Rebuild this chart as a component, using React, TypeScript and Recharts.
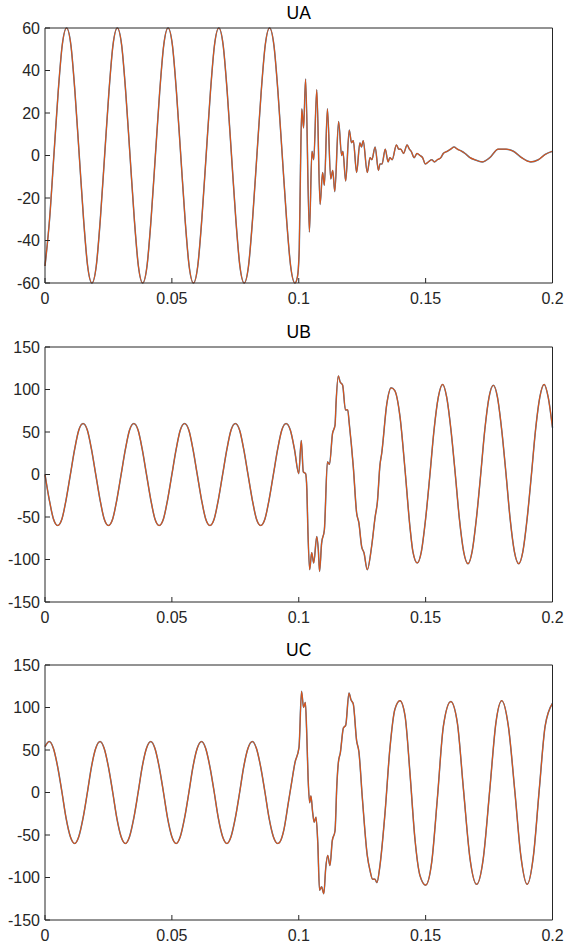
import React from 'react';
import { LineChart, Line, XAxis, YAxis } from 'recharts';

// shared tick labels
const xTicks = [0, 0.05, 0.1, 0.15, 0.2];
const uaTicks = [-60, -40, -20, 0, 20, 40, 60];
const ubcTicks = [-150, -100, -50, 0, 50, 100, 150];

// UA: steady state up to the trough before 0.1 s, then the fault transient
const uaSteadyTime = [
  0, 0.0018, 0.0035, 0.0052, 0.0068, 0.0085, 0.0102, 0.0118, 0.0135, 0.0152, 0.0168, 0.0185,
  0.0202, 0.0218, 0.0235, 0.0252, 0.0268, 0.0285, 0.0302, 0.0318, 0.0335, 0.0352, 0.0368, 0.0385,
  0.0402, 0.0418, 0.0435, 0.0452, 0.0468, 0.0485, 0.0502, 0.0518, 0.0535, 0.0552, 0.0568, 0.0585,
  0.0602, 0.0618, 0.0635, 0.0652, 0.0668, 0.0685, 0.0702, 0.0718, 0.0735, 0.0752, 0.0768, 0.0785,
  0.0802, 0.0818, 0.0835, 0.0852, 0.0868, 0.0885, 0.0902, 0.0918, 0.0935, 0.0952, 0.0968, 0.0985,
];
const uaSteadyValue = [
  -52, -30, 0, 30, 52, 60, 52, 30, 0, -30, -52, -60,
  -52, -30, 0, 30, 52, 60, 52, 30, 0, -30, -52, -60,
  -52, -30, 0, 30, 52, 60, 52, 30, 0, -30, -52, -60,
  -52, -30, 0, 30, 52, 60, 52, 30, 0, -30, -52, -60,
  -52, -30, 0, 30, 52, 60, 52, 30, 0, -30, -52, -60,
];
const uaFaultTime = [
  0.0995, 0.1002, 0.1007, 0.1012, 0.1019, 0.1027, 0.1042, 0.1052, 0.1059, 0.1071,
  0.1084, 0.1094, 0.1101, 0.1113, 0.1126, 0.1134, 0.1142, 0.1157, 0.1169, 0.1174,
  0.1185, 0.1199, 0.1208, 0.1215, 0.1228, 0.1241, 0.1247, 0.1254, 0.127, 0.1281,
  0.1288, 0.1301, 0.1314, 0.132, 0.1328, 0.1341, 0.1352, 0.1359, 0.1368, 0.1385,
  0.1394, 0.1402, 0.1413, 0.1427, 0.1436, 0.1443, 0.1455, 0.1466, 0.1478, 0.1488,
  0.1499, 0.1511, 0.1524, 0.1535, 0.1546, 0.156, 0.157, 0.1586, 0.1599, 0.1612,
  0.1625, 0.1642, 0.1655, 0.1675, 0.1694, 0.1723, 0.1753, 0.1786, 0.1817, 0.1846,
  0.1878, 0.1914, 0.1944, 0.1971, 0.2,
];
const uaFaultValue = [
  -57, -44, -5, 22, 13, 36, -36, 2, -2, 31,
  -23, -8, -14, 22, -11, -7, -17, 16, 0, 2,
  -12, 12, 6, 7, -8, 6, 4, 7, -8, -1,
  -2, 4, -7, -4, -4, 3, -3, -1, -2, 5,
  3, 3, 1, 5, 3, 2, -1, 1, 0, -1,
  -4, -3, -2, -3, -2, -1, 1, 2, 3, 4,
  3, 2, 1, -1, -2, -3, -1, 3, 3, 2,
  -1, -3, -2, 0.5, 2,
];

// UB
const ubSteadyTime = [
  0, 0.0017, 0.0033, 0.005, 0.0067, 0.0083, 0.01, 0.0117, 0.0133, 0.015, 0.0167, 0.0183,
  0.02, 0.0217, 0.0233, 0.025, 0.0267, 0.0283, 0.03, 0.0317, 0.0333, 0.035, 0.0367, 0.0383,
  0.04, 0.0417, 0.0433, 0.045, 0.0467, 0.0483, 0.05, 0.0517, 0.0533, 0.055, 0.0567, 0.0583,
  0.06, 0.0617, 0.0633, 0.065, 0.0667, 0.0683, 0.07, 0.0717, 0.0733, 0.075, 0.0767, 0.0783,
  0.08, 0.0817, 0.0833, 0.085, 0.0867, 0.0883, 0.09, 0.0917, 0.0933, 0.095, 0.0967, 0.0983,
];
const ubSteadyValue = [
  0, -30, -52, -60, -52, -30, 0, 30, 52, 60, 52, 30,
  0, -30, -52, -60, -52, -30, 0, 30, 52, 60, 52, 30,
  0, -30, -52, -60, -52, -30, 0, 30, 52, 60, 52, 30,
  0, -30, -52, -60, -52, -30, 0, 30, 52, 60, 52, 30,
  0, -30, -52, -60, -52, -30, 0, 30, 52, 60, 52, 30,
];
const ubFaultTime = [
  0.1, 0.101, 0.1018, 0.1027, 0.1032, 0.1036, 0.1043, 0.1051, 0.1059, 0.1071,
  0.1077, 0.1082, 0.109, 0.1101, 0.1113, 0.1121, 0.1133, 0.1143, 0.1147, 0.1156,
  0.1163, 0.1173, 0.1184, 0.1193, 0.1199, 0.1215, 0.1228, 0.1237, 0.1248, 0.1257,
  0.127, 0.1287, 0.1301, 0.131, 0.132, 0.1327, 0.1347, 0.1364, 0.1378, 0.1399,
  0.1419, 0.1438, 0.145, 0.1467, 0.1483, 0.15, 0.1517, 0.1533, 0.155, 0.1567,
  0.1583, 0.16, 0.1617, 0.1633, 0.165, 0.1667, 0.1683, 0.17, 0.1717, 0.1733,
  0.175, 0.1767, 0.1783, 0.18, 0.1817, 0.1833, 0.185, 0.1867, 0.1883, 0.19,
  0.1917, 0.1933, 0.195, 0.1967, 0.1983, 0.2,
];
const ubFaultValue = [
  1, 40, 3, 1, -18, -65, -112, -92, -104, -73,
  -88, -114, -81, -65, 15, 12, 48, 58, 84, 116,
  109, 105, 76, 76, 60, 9, -45, -57, -85, -92,
  -112, -85, -50, -32, 11, 25, 83, 102, 99, 68,
  5, -61, -91, -104, -91, -52, 0, 52, 91, 106,
  91, 52, 0, -52, -91, -105, -91, -52, 0, 52,
  91, 105, 91, 52, 0, -52, -91, -105, -91, -52,
  0, 52, 91, 106, 91, 55,
];

// UC
const ucSteadyTime = [
  0, 0.0017, 0.0033, 0.005, 0.0067, 0.0083, 0.01, 0.0117, 0.0133, 0.015, 0.0167, 0.0183,
  0.02, 0.0217, 0.0233, 0.025, 0.0267, 0.0283, 0.03, 0.0317, 0.0333, 0.035, 0.0367, 0.0383,
  0.04, 0.0417, 0.0433, 0.045, 0.0467, 0.0483, 0.05, 0.0517, 0.0533, 0.055, 0.0567, 0.0583,
  0.06, 0.0617, 0.0633, 0.065, 0.0667, 0.0683, 0.07, 0.0717, 0.0733, 0.075, 0.0767, 0.0783,
  0.08, 0.0817, 0.0833, 0.085, 0.0867, 0.0883, 0.09, 0.0917,
];
const ucSteadyValue = [
  54, 60, 52, 30, 0, -30, -52, -60, -52, -30, 0, 30,
  52, 60, 52, 30, 0, -30, -52, -60, -52, -30, 0, 30,
  52, 60, 52, 30, 0, -30, -52, -60, -52, -30, 0, 30,
  52, 60, 52, 30, 0, -30, -52, -60, -52, -30, 0, 30,
  52, 60, 52, 30, 0, -30, -52, -60,
];
const ucFaultTime = [
  0.0926, 0.0942, 0.0959, 0.0972, 0.0985, 0.1001, 0.1011, 0.1019, 0.1026, 0.1031,
  0.1037, 0.1043, 0.1048, 0.1055, 0.1061, 0.1068, 0.1075, 0.1082, 0.109, 0.1099,
  0.1106, 0.1114, 0.1123, 0.1132, 0.1143, 0.115, 0.1156, 0.1164, 0.1176, 0.1185,
  0.1198, 0.1206, 0.1215, 0.1228, 0.1237, 0.1251, 0.127, 0.1281, 0.1291, 0.13,
  0.1308, 0.132, 0.134, 0.1359, 0.1379, 0.1399, 0.1419, 0.1438, 0.1458, 0.1478,
  0.15, 0.1524, 0.1546, 0.157, 0.1599, 0.1625, 0.1649, 0.1675, 0.1701, 0.1727,
  0.1753, 0.1777, 0.18, 0.1826, 0.1852, 0.1875, 0.19, 0.1925, 0.1948, 0.1971,
  0.2,
];
const ucFaultValue = [
  -58, -43, -12, 12, 35, 53, 119, 100, 106, 74,
  16, -12, -4, -24, -35, -29, -59, -115, -111, -119,
  -90, -74, -86, -57, -45, 8, 35, 47, 76, 79,
  117, 109, 104, 61, 48, -8, -74, -92, -102, -102,
  -106, -86, -24, 51, 98, 108, 90, 24, -55, -98,
  -109, -82, -8, 78, 107, 82, 4, -78, -108, -78,
  4, 82, 108, 78, 0, -74, -108, -74, 4, 78,
  105,
];

const AXIS_COLOR = '#262626';
const FONT = '"Liberation Sans", Arial, Helvetica, sans-serif';
const tickStyle = { fontSize: 16, fill: AXIS_COLOR, fontFamily: FONT };

function Panel({ title, time, values, yTicks, top }) {
  const data = time.map((t, i) => ({ t, v: values[i] }));
  const yDomain = [yTicks[0], yTicks[yTicks.length - 1]];
  return (
    <div style={{ position: 'absolute', left: 0, top, width: 564, height: 318 }}>
      <div
        style={{
          position: 'absolute',
          left: 45,
          width: 507.5,
          top: 3,
          textAlign: 'center',
          fontFamily: FONT,
          fontSize: 17.5,
          lineHeight: '20px',
          color: '#000',
        }}
      >
        {title}
      </div>
      <LineChart width={564} height={318} data={data} margin={{ top: 27, right: 10.5, bottom: 5, left: 5 }}>
        <XAxis
          dataKey="t"
          type="number"
          domain={[0, 0.2]}
          ticks={xTicks}
          height={30}
          tickSize={-5}
          tickMargin={15}
          tick={tickStyle}
          stroke={AXIS_COLOR}
          interval={0}
        />
        <XAxis
          xAxisId="top"
          orientation="top"
          dataKey="t"
          type="number"
          domain={[0, 0.2]}
          ticks={xTicks}
          height={1}
          tickSize={-5}
          tick={false}
          stroke={AXIS_COLOR}
          interval={0}
        />
        <YAxis
          type="number"
          domain={yDomain}
          ticks={yTicks}
          width={40}
          tickSize={-5}
          tickMargin={10}
          tick={tickStyle}
          stroke={AXIS_COLOR}
          interval={0}
        />
        <YAxis
          yAxisId="right"
          orientation="right"
          type="number"
          domain={yDomain}
          ticks={yTicks}
          width={1}
          tickSize={-5}
          tick={false}
          stroke={AXIS_COLOR}
          interval={0}
        />
        <Line type="monotone" dataKey="v" name="measured" stroke="#0072BD" strokeWidth={1.5} strokeOpacity={0.8} dot={false} isAnimationActive={false} />
        <Line type="monotone" dataKey="v" name="simulated" stroke="#D95319" strokeWidth={1.2} dot={false} isAnimationActive={false} />
      </LineChart>
    </div>
  );
}

export default function App() {
  return (
    <div style={{ position: 'absolute', left: 0, top: 0, width: 564, height: 948, overflow: 'hidden', background: '#fff' }}>
      <Panel title="UA" time={[...uaSteadyTime, ...uaFaultTime]} values={[...uaSteadyValue, ...uaFaultValue]} yTicks={uaTicks} top={0} />
      <Panel title="UB" time={[...ubSteadyTime, ...ubFaultTime]} values={[...ubSteadyValue, ...ubFaultValue]} yTicks={ubcTicks} top={319} />
      <Panel title="UC" time={[...ucSteadyTime, ...ucFaultTime]} values={[...ucSteadyValue, ...ucFaultValue]} yTicks={ubcTicks} top={637} />
    </div>
  );
}
